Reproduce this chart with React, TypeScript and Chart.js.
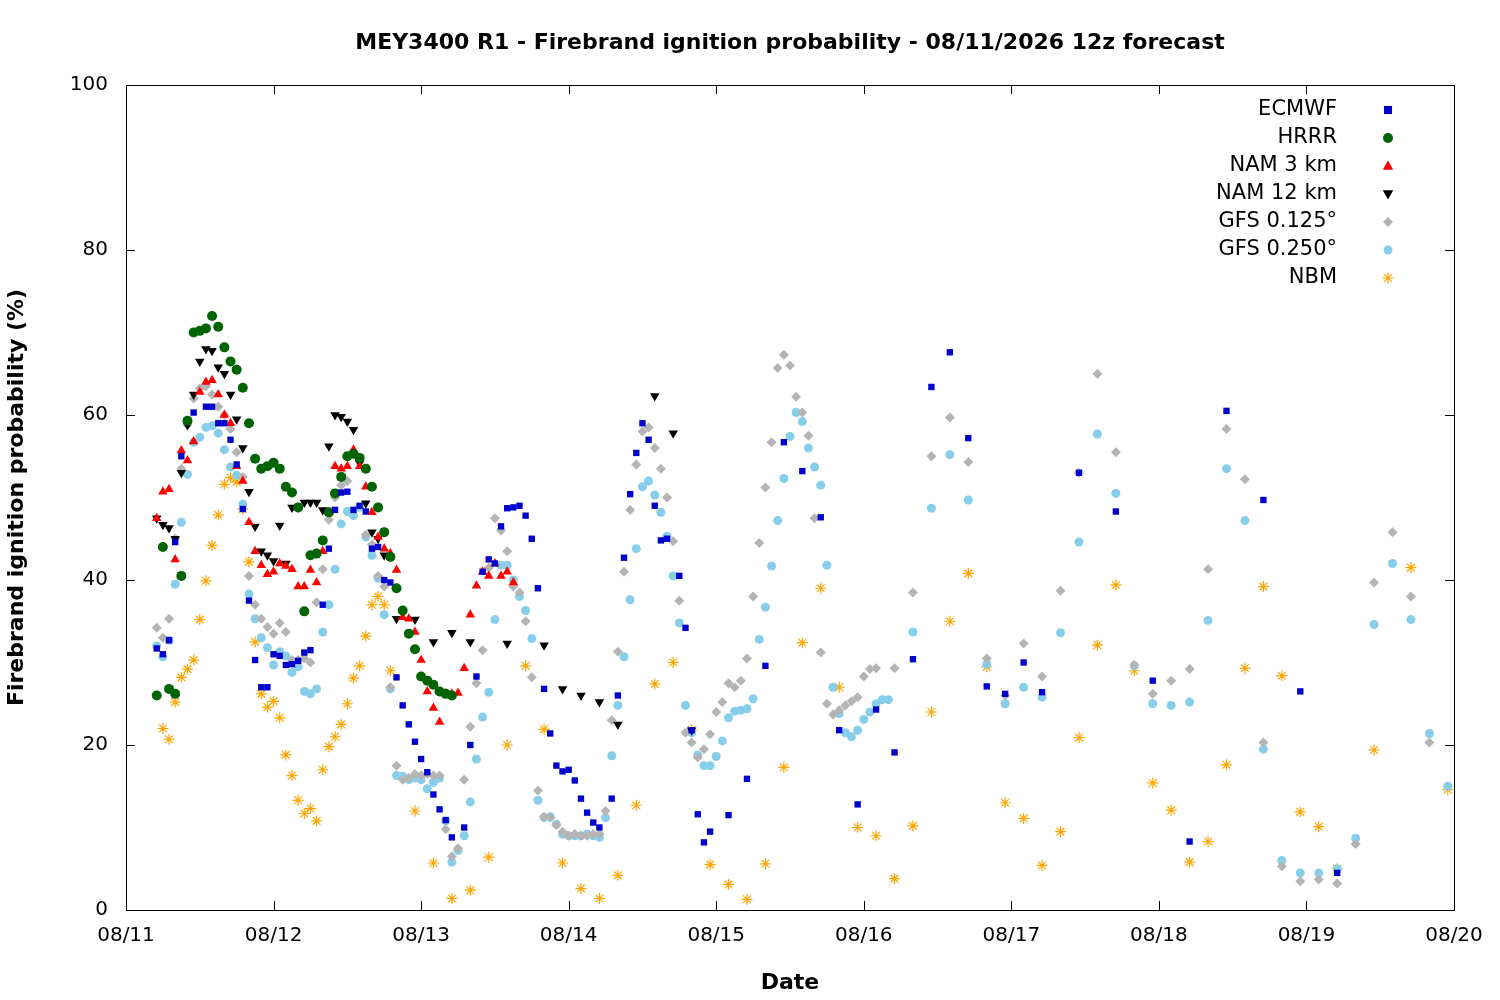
import React, { useEffect, useRef } from "react";
import { Chart, registerables } from "chart.js";
Chart.register(...registerables);

const dayLabels = ["08/11","08/12","08/13","08/14","08/15","08/16","08/17","08/18","08/19","08/20"];

const ecX = [5,6,7,8,9,11,13,14,15,16,17,18,19,20,21,22,23,24,25,26,27,28,29,30,32,33,34,35,36,37,38,39,40,41,42,43,44,45,46,47,48,49,50,51,52,53,55,56,57,58,59,60,61,62,63,64,65,66,67,68,69,70,71,72,73,74,75,76,77,79,80,81,82,83,84,85,86,87,88,90,91,92,93,94,95,98,101,104,107,110,113,116,119,122,125,128,131,134,137,140,143,146,149,155,161,167,173,179,185,191,197];
const ecY = [31.7,31,32.7,44.6,55,60.3,61,61,59,59,57,54,48.6,37.5,30.3,27,27,31,30.8,29.7,29.8,30.2,31.2,31.5,37,43.8,48.5,50.6,50.7,48.5,49,48.3,43.8,44,40,39.7,28.2,24.8,22.5,20.4,18.3,16.7,14,12.2,10.9,8.8,10,20,28.3,41,42.5,42,46.5,48.7,48.8,49,47.8,45,39,26.8,21.4,17.5,16.8,17,15.7,13.5,11.8,10.6,10,13.5,26,42.7,50.4,55.4,59,57,49,44.8,45,40.5,34.2,21.8,11.6,8.2,9.5,11.5,15.9,29.6,56.7,53.2,47.6,21.8,12.8,24.3,19.1,30.4,63.4,67.6,57.2,27.1,26.2,30,26.4,53,48.3,27.8,8.3,60.5,49.7,26.5,4.5];

const hrX = [5,6,7,8,9,10,11,12,13,14,15,16,17,18,19,20,21,22,23,24,25,26,27,28,29,30,31,32,33,34,35,36,37,38,39,40,41,42,43,44,45,46,47,48,49,50,51,52,53];
const hrY = [26,44,26.8,26.2,40.5,59.3,70,70.2,70.5,72,70.7,68.2,66.5,65.5,63.3,59,54.7,53.5,53.8,54.2,53.5,51.3,50.6,48.8,36.2,43,43.2,44.8,48.2,50.5,52.5,55,55.3,54.8,53.5,51.3,48.8,45.8,42.8,39,36.3,33.5,31.6,28.3,27.8,27.3,26.5,26.2,26];

const n3X = [5,6,7,8,9,10,11,12,13,14,15,16,17,18,19,20,21,22,23,24,25,26,27,28,29,30,31,32,33,34,35,36,37,38,39,40,41,42,43,44,45,46,47,48,49,50,51,52,53,54,55,56,57,58,59,60,61,62,63];
const n3Y = [47.5,50.7,51,42.5,55.7,54.5,56.8,62.8,64,64.2,62.5,60,59,53.8,52,47,43.5,41.8,40.7,41,42,41.7,41.3,39.2,39.2,41.2,39.7,43.5,48.2,53.8,53.5,53.8,55.8,53.8,51.3,48.2,45.2,43.8,43.2,41.2,35.5,35.3,33.7,30.3,26.5,24.5,22.8,26.2,26.2,26.3,29.3,35.8,39.3,41,40.5,42,40.5,41,39.7];

const n12X = [5,6,7,8,9,10,11,12,13,14,15,16,17,18,19,20,21,22,23,24,25,26,27,28,29,30,31,32,33,34,35,36,37,38,39,40,41,42,44,47,50,53,56,62,68,71,74,77,80,86,89,92];
const n12Y = [47.5,46.7,46.3,45,53,58.8,62.5,66.5,68,67.8,65.8,65,62.5,59.5,56,50.7,46.5,43.5,43,42.3,46.6,42,48.8,48.8,49.4,49.4,49.4,48.5,56.2,60,59.8,59.2,58.2,54.2,49.3,45.8,45,43,35.3,35.2,32.5,33.6,32.5,32.3,32.1,26.8,26,25.2,22.5,62.3,57.8,21.8];

const g1X = [5,6,7,8,9,10,11,12,13,14,15,16,17,18,19,20,21,22,23,24,25,26,27,28,29,30,31,32,33,34,35,36,37,38,39,40,41,42,43,44,45,46,47,48,49,50,51,52,53,54,55,56,57,58,59,60,61,62,63,64,65,66,67,68,69,70,71,72,73,74,75,76,77,78,79,80,81,82,83,84,85,86,87,88,89,90,91,92,93,94,95,96,97,98,99,100,101,102,103,104,105,106,107,108,109,110,111,112,113,114,115,116,117,118,119,120,121,122,125,128,131,134,137,140,143,146,149,152,155,158,161,164,167,170,173,176,179,182,185,188,191,194,197,200,203,206,209,212];
const g1Y = [34.2,33,35.3,45,53.5,58.8,62,63.2,63.5,62.5,61,60,58.3,55.5,52.5,40.5,37,35.3,34.3,33.5,34.8,33.7,30.3,30.3,30.5,30,37.3,41.3,47.3,50,51.5,52,55.3,54.3,45.5,44.3,40.5,39.2,27,17.5,15.8,16,16.5,16.3,16.5,16.3,16.3,9.8,6.5,7.5,15.8,22.2,27.5,31.5,41.5,47.5,46,43.5,39.2,38.5,35,28.2,14.5,11.3,11.2,10.3,9.5,9,9.2,9,9,9.2,9.2,12,23,31.3,41,48.5,54,58,58.5,56,53.5,50,44.7,37.5,21.5,20.3,18.5,19.5,21.3,24,25.2,27.5,27,27.8,30.5,38,44.5,51.2,56.7,65.7,67.3,66,62.2,60.3,57.5,47.5,31.2,25,23.7,24.2,24.8,25.3,25.8,28.3,29.2,29.3,29.3,38.5,55,59.7,54.3,30.5,26,32.3,28.3,38.7,53,65,55.5,29.7,26.2,27.8,29.2,41.3,58.3,52.2,20.3,5.3,3.5,3.7,3.2,8,39.7,45.8,38,20.3];

const g2X = [5,6,7,8,9,10,11,12,13,14,15,16,17,18,19,20,21,22,23,24,25,26,27,28,29,30,31,32,33,34,35,36,37,38,39,40,41,42,43,44,45,46,47,48,49,50,51,52,53,54,55,56,57,58,59,60,61,62,63,64,65,66,67,68,69,70,71,72,73,74,75,76,77,78,79,80,81,82,83,84,85,86,87,88,89,90,91,92,93,94,95,96,97,98,99,100,101,102,103,104,105,106,107,108,109,110,111,112,113,114,115,116,117,118,119,120,121,122,123,124,128,131,134,137,140,143,146,149,152,155,158,161,164,167,170,173,176,179,182,185,188,191,194,197,200,203,206,209,212,215];
const g2Y = [32,30.7,32.7,39.5,47,52.8,56.7,57.3,58.5,58.7,57.8,55.8,53.7,52.7,49.2,38.3,35.3,33,31.8,29.7,31.3,30.8,28.8,29.5,26.5,26.2,26.8,33.7,37,41.3,46.8,48.3,47.8,48.8,45.2,43,40.2,35.8,26.8,16.3,16.2,15.8,16,15.8,14.7,15.5,16,10.8,5.8,7.2,9,13.1,18.3,23.4,26.4,35.2,41.8,41.8,40,38,36.3,32.9,13.3,11.2,11.3,10.4,9.2,9,9,9,9.2,9,8.8,11.2,18.7,24.8,30.7,37.6,43.8,51.3,52,50.3,48.2,45.3,40.5,34.8,24.8,21.5,18.8,17.5,17.5,18.6,20.5,23.3,24.1,24.2,24.4,25.6,32.8,36.7,41.7,47.2,52.3,57.4,60.3,59.2,56,53.7,51.5,41.8,27,23.8,21.5,21,21.8,23.1,24,25,25.5,25.5,33.7,48.7,55.2,49.7,29.8,25,27,25.8,33.6,44.6,57.7,50.5,29.6,25,24.8,25.2,35.1,53.5,47.2,19.5,6,4.5,4.5,5,8.7,34.6,42,35.2,21.4,15];

const nbX = [6,7,8,9,10,11,12,13,14,15,16,17,18,19,20,21,22,23,24,25,26,27,28,29,30,31,32,33,34,35,36,37,38,39,40,41,42,43,47,50,53,56,59,62,65,68,71,74,77,80,83,86,89,92,95,98,101,104,107,110,113,116,119,122,125,128,131,134,137,140,143,146,149,152,155,158,161,164,167,170,173,176,179,182,185,188,191,194,197,203,209,215];
const nbY = [22,20.7,25.2,28.2,29.2,30.3,35.2,39.9,44.2,47.9,51.6,52.4,51.9,48.6,42.2,32.5,26.2,24.6,25.3,23.3,18.8,16.3,13.3,11.7,12.3,10.8,17,19.8,21,22.5,25,28.1,29.6,33.2,37,38,37,29,12,5.7,1.4,2.4,6.4,20,29.6,21.9,5.7,2.6,1.4,4.2,12.7,27.4,30,21.8,5.5,3.1,1.3,5.6,17.3,32.4,39,27,10,9,3.8,10.2,24,35,40.8,29.5,13,11.1,5.4,9.5,20.9,32.1,39.4,29,15.4,12.1,5.8,8.3,17.6,29.3,39.2,28.4,11.9,10.1,5,19.4,41.5,14.6];

const FONT = "'DejaVu Sans', sans-serif";
const pts = (xs: number[], ys: number[]) => xs.map((x, i) => ({ x, y: ys[i] }));

const series = [
  { label: "ECMWF", x: ecX, y: ecY, color: "#0000cc", style: "rect", r: 4.5, rot: 0 },
  { label: "HRRR", x: hrX, y: hrY, color: "#006400", style: "circle", r: 5, rot: 0 },
  { label: "NAM 3 km", x: n3X, y: n3Y, color: "#ff0000", style: "triangle", r: 5.5, rot: 0 },
  { label: "NAM 12 km", x: n12X, y: n12Y, color: "#000000", style: "triangle", r: 5.5, rot: 180 },
  { label: "GFS 0.125°", x: g1X, y: g1Y, color: "#b4b4b4", style: "rectRot", r: 5, rot: 0 },
  { label: "GFS 0.250°", x: g2X, y: g2Y, color: "#87ceeb", style: "circle", r: 4.5, rot: 0 },
  { label: "NBM", x: nbX, y: nbY, color: "#ffa500", style: "star", r: 5.5, rot: 0 },
];

export default function App() {
  const ref = useRef<HTMLCanvasElement>(null);
  useEffect(() => {
    const frame = {
      id: "frame",
      afterDraw(c: any) {
        const { ctx, chartArea: a, scales } = c;
        ctx.save();
        ctx.strokeStyle = "#000";
        ctx.lineWidth = 1;
        ctx.strokeRect(a.left + 0.5, a.top + 0.5, a.right - a.left, a.bottom - a.top);
        ctx.beginPath();
        for (let d = 0; d <= 216; d += 24) {
          const px = Math.round(scales.x.getPixelForValue(d)) + 0.5;
          ctx.moveTo(px, a.bottom); ctx.lineTo(px, a.bottom - 9);
          ctx.moveTo(px, a.top); ctx.lineTo(px, a.top + 9);
        }
        for (let v = 0; v <= 100; v += 20) {
          const py = Math.round(scales.y.getPixelForValue(v)) + 0.5;
          ctx.moveTo(a.left, py); ctx.lineTo(a.left + 9, py);
          ctx.moveTo(a.right, py); ctx.lineTo(a.right - 9, py);
        }
        ctx.stroke();
        // title
        ctx.fillStyle = "#000";
        ctx.font = `bold 22px ${FONT}`;
        ctx.textAlign = "center";
        ctx.textBaseline = "middle";
        ctx.fillText("MEY3400 R1 - Firebrand ignition probability - 08/11/2026 12z forecast", 790, 43);
        // legend
        ctx.font = `21px ${FONT}`;
        series.forEach((s, i) => {
          const y = 110 + i * 28;
          ctx.textAlign = "right";
          ctx.fillStyle = "#000";
          ctx.fillText(s.label, 1337, y);
          ctx.fillStyle = s.color;
          ctx.strokeStyle = s.color;
          ctx.lineWidth = 1.2;
          (Chart as any).helpers
            ? null
            : null;
          drawPt(ctx, s.style, s.r, s.rot, 1388, y);
        });
        ctx.restore();
      },
    };
    const chart = new Chart(ref.current!, {
      type: "scatter",
      data: {
        datasets: series.map((s) => ({
          label: s.label,
          data: pts(s.x, s.y),
          pointStyle: s.style as any,
          pointRadius: s.r,
          pointRotation: s.rot,
          backgroundColor: s.color,
          borderColor: s.color,
          borderWidth: s.style === "star" ? 1.2 : 0,
        })),
      },
      options: {
        animation: false,
        responsive: false,
        layout: { padding: { top: 85, right: 46, left: 0, bottom: 0 } },
        plugins: { legend: { display: false }, tooltip: { enabled: false }, title: { display: false } },
        scales: {
          x: {
            type: "linear", min: 0, max: 216,
            afterFit: (s: any) => { s.height = 90; },
            grid: { display: false },
            border: { display: false },
            ticks: { stepSize: 24, color: "#000", font: { family: FONT, size: 20 }, padding: 6, maxRotation: 0,
              callback: (v: any) => dayLabels[Math.round(Number(v) / 24)] ?? "" },
            title: { display: true, text: "Date", color: "#000", font: { family: FONT, size: 22, weight: "bold" }, padding: { top: 8 } },
          },
          y: {
            min: 0, max: 100,
            afterFit: (s: any) => { s.width = 126; },
            grid: { display: false },
            border: { display: false },
            ticks: { stepSize: 20, color: "#000", font: { family: FONT, size: 20 }, padding: 10 },
            title: { display: true, text: "Firebrand ignition probability (%)", color: "#000", font: { family: FONT, size: 22, weight: "bold" }, padding: { bottom: 4 } },
          },
        },
      },
      plugins: [frame],
    });
    return () => chart.destroy();
  }, []);
  return (
    <div style={{ position: "fixed", left: 0, top: 0, width: 1500, height: 1000, background: "#fff" }}>
      <canvas ref={ref} width={1500} height={1000} style={{ width: 1500, height: 1000 }} />
    </div>
  );
}

function drawPt(ctx: CanvasRenderingContext2D, style: string, r: number, rot: number, x: number, y: number) {
  ctx.save();
  ctx.translate(x, y);
  ctx.rotate((rot * Math.PI) / 180);
  ctx.beginPath();
  if (style === "rect") { ctx.rect(-r * 0.9, -r * 0.9, r * 1.8, r * 1.8); ctx.fill(); }
  else if (style === "circle") { ctx.arc(0, 0, r, 0, Math.PI * 2); ctx.fill(); }
  else if (style === "triangle") { ctx.moveTo(0, -r); ctx.lineTo(r * 0.95, r * 0.7); ctx.lineTo(-r * 0.95, r * 0.7); ctx.closePath(); ctx.fill(); }
  else if (style === "rectRot") { ctx.moveTo(0, -r); ctx.lineTo(r, 0); ctx.lineTo(0, r); ctx.lineTo(-r, 0); ctx.closePath(); ctx.fill(); }
  else if (style === "star") {
    for (let k = 0; k < 4; k++) { const a = (k * Math.PI) / 4; ctx.moveTo(Math.cos(a) * r, Math.sin(a) * r); ctx.lineTo(-Math.cos(a) * r, -Math.sin(a) * r); }
    ctx.stroke();
  }
  ctx.restore();
}
